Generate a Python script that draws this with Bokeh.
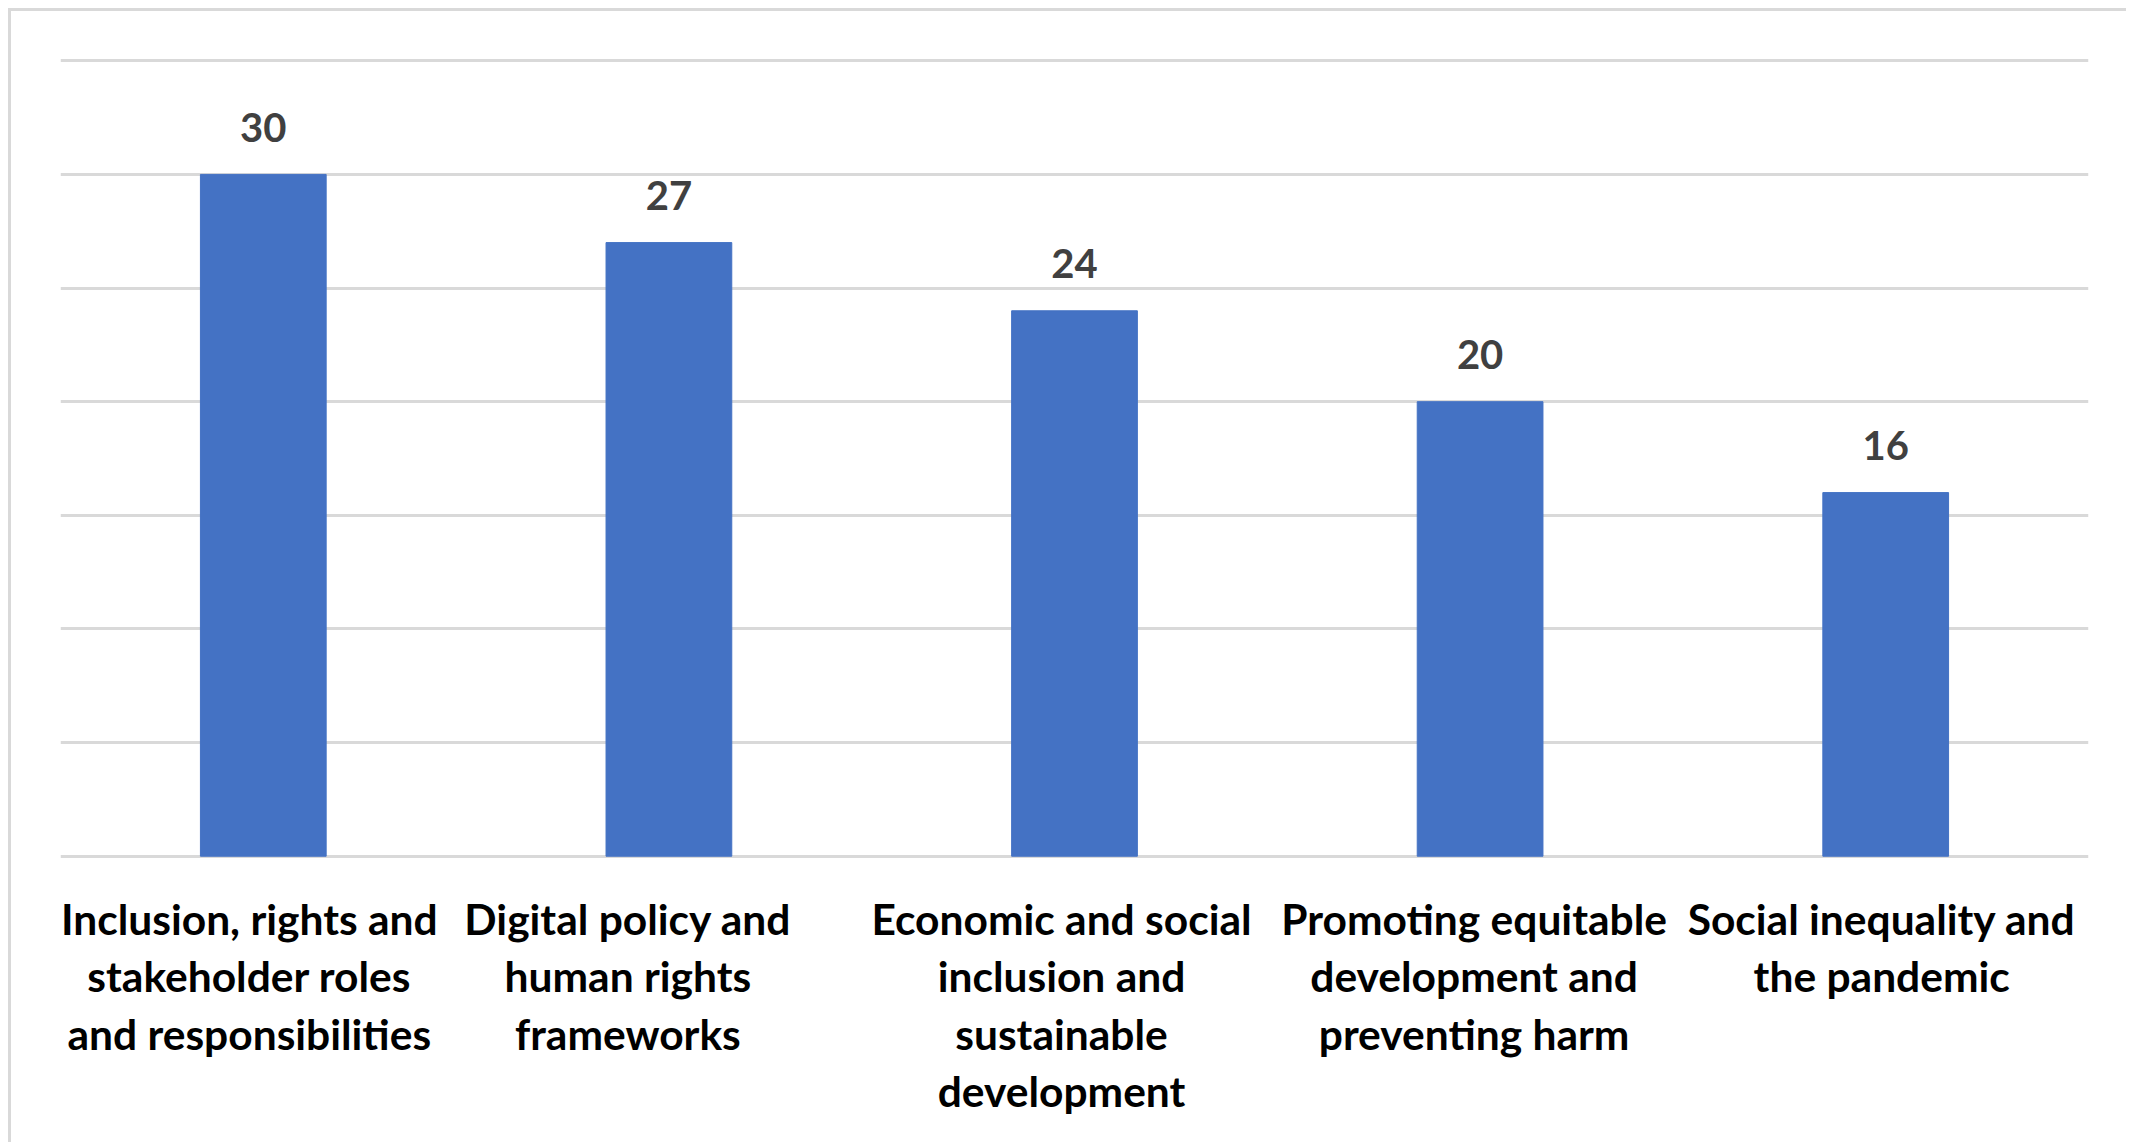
from bokeh.plotting import figure
from bokeh.models import FactorRange, Range1d, FixedTicker, ColumnDataSource
from bokeh.core.properties import value
from bokeh.embed import file_html
from bokeh.resources import INLINE

categories = [
    "Inclusion, rights and stakeholder roles and responsibilities",
    "Digital policy and human rights frameworks",
    "Economic and social inclusion and sustainable development",
    "Promoting equitable development and preventing harm",
    "Social inequality and the pandemic",
]
tick_labels = [
    "Inclusion, rights and\nstakeholder roles\nand responsibilities",
    "Digital policy and\nhuman rights\nframeworks",
    "Economic and social\ninclusion and\nsustainable\ndevelopment",
    "Promoting equitable\ndevelopment and\npreventing harm",
    "Social inequality and\nthe pandemic",
]
values = [30, 27, 24, 20, 16]
value_labels = [str(v) for v in values]
grid_ticks = [0, 5, 10, 15, 20, 25, 30, 35]

# layout nudges (screen px) for the wrapped category labels
label_nudge = [-14, -41, -13, -6, -4]

FONT = "Lato"
LINE_STEP = 57.5
FIRST_LINE = 62

p = figure(
    x_range=FactorRange(*categories, range_padding=0),
    y_range=Range1d(-0.1, 35.1),
    width=2118, height=1134,
    output_backend="svg", toolbar_location=None,
    min_border_left=49, min_border_right=41,
    min_border_top=47, min_border_bottom=287,
)
p.styles = {"margin-left": "8px", "margin-top": "8px",
            "border-left": "3px solid #d9d9d9", "border-top": "3px solid #d9d9d9"}
p.outline_line_color = None
p.background_fill_color = "white"
p.border_fill_color = "white"

p.vbar(x=categories, top=values, width=0.31, color="#4472C4")
p.text(x=categories, y=values, text=value_labels, y_offset=-47,
       text_align="center", text_baseline="alphabetic",
       text_font=value(FONT), text_font_size="40px",
       text_font_style="bold", text_color="#404040")

# category labels, one text per wrapped line, under each bar
lx, ly, lt, yoff, xoff = [], [], [], [], []
for cat, lab, nud in zip(categories, tick_labels, label_nudge):
    for i, line in enumerate(lab.split("\n")):
        lx.append(cat)
        ly.append(0)
        lt.append(line)
        yoff.append(FIRST_LINE + i * LINE_STEP)
        xoff.append(nud)
src = ColumnDataSource(dict(x=lx, y=ly, text=lt, yoff=yoff, xoff=xoff))
r = p.text(x="x", y="y", text="text", x_offset="xoff", y_offset="yoff", source=src,
           text_align="center", text_baseline="alphabetic",
           text_font=value(FONT), text_font_size="42.5px",
           text_font_style="bold", text_color="#000000")
r.level = "overlay"

p.xaxis.visible = False
p.yaxis.visible = False
p.ygrid.ticker = FixedTicker(ticks=grid_ticks)
p.ygrid.grid_line_color = "#d9d9d9"
p.ygrid.grid_line_width = 3
p.xgrid.grid_line_color = None

open("out.html", "w").write(file_html(p, INLINE))
